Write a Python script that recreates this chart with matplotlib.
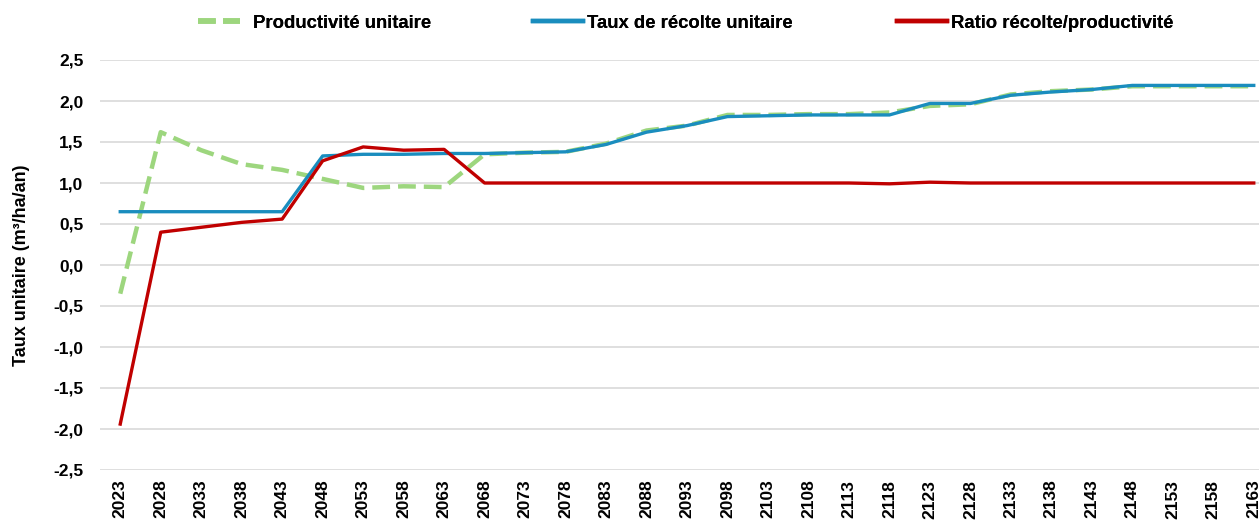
import numpy as np
import matplotlib.pyplot as plt
from matplotlib.ticker import FuncFormatter
from matplotlib.lines import Line2D

years = list(range(2023, 2164, 5))

productivite = [-0.35, 1.62, 1.40, 1.23, 1.16, 1.05, 0.94, 0.96, 0.95, 1.35,
                1.37, 1.38, 1.48, 1.64, 1.70, 1.83, 1.83, 1.84, 1.84, 1.86,
                1.94, 1.96, 2.08, 2.12, 2.14, 2.18, 2.18, 2.18, 2.18]
taux_recolte = [0.65, 0.65, 0.65, 0.65, 0.65, 1.33, 1.35, 1.35, 1.36, 1.36,
                1.37, 1.38, 1.47, 1.62, 1.70, 1.81, 1.82, 1.83, 1.83, 1.83,
                1.97, 1.97, 2.07, 2.11, 2.14, 2.19, 2.19, 2.19, 2.19]
ratio = [-1.94, 0.40, 0.46, 0.52, 0.56, 1.27, 1.44, 1.40, 1.41, 1.00,
         1.00, 1.00, 1.00, 1.00, 1.00, 1.00, 1.00, 1.00, 1.00, 0.99,
         1.01, 1.00, 1.00, 1.00, 1.00, 1.00, 1.00, 1.00, 1.00]

labels = ['Productivité unitaire', 'Taux de récolte unitaire', 'Ratio récolte/productivité']
colors = ['#9DD67E', '#1A8DBE', '#C00000']

plt.rcParams['font.family'] = ['Liberation Sans', 'DejaVu Sans']
plt.rcParams['font.weight'] = 'bold'

fig = plt.figure(figsize=(12.59, 5.21), dpi=100)
ax = fig.add_axes([100 / 1259, 1 - 470 / 521, 1174 / 1259, 410 / 521])

x = np.arange(len(years))
ax.plot(x, productivite, color=colors[0], lw=3.2, ls=(0, (4, 1.8)))
ax.plot(x, taux_recolte, color=colors[1], lw=2.4)
ax.plot(x, ratio, color=colors[2], lw=2.4)

ax.set_xlim(-0.5, len(years) - 0.5)
ax.set_ylim(-2.5, 2.5)
ax.set_yticks(np.arange(-2.5, 2.51, 0.5))
ax.yaxis.set_major_formatter(FuncFormatter(lambda v, p: f"{v:.1f}".replace('.', ',').replace('-0,0', '0,0')))
ax.set_xticks(x)
ax.set_xticklabels([str(y) for y in years], rotation=90, fontsize=12.5, fontweight='bold')
for lab in ax.get_yticklabels():
    lab.set_fontsize(12.5)
    lab.set_fontweight('bold')
ax.tick_params(axis='x', length=0, pad=7)
ax.tick_params(axis='y', length=0, pad=12)
ax.grid(axis='y', color='#D9D9D9', lw=1.2)
ax.set_axisbelow(True)
for s in ax.spines.values():
    s.set_visible(False)

ax.set_ylabel('Taux unitaire (m³/ha/an)', fontsize=13, fontweight='bold', labelpad=17)

# three legend entries placed like the original (fixed column slots)
handles = [Line2D([], [], color=colors[0], lw=4, ls=(0, (3.2, 1.3))),
           Line2D([], [], color=colors[1], lw=3.2),
           Line2D([], [], color=colors[2], lw=3.2)]
starts = [198, 533, 897]
hlens = [2.27, 2.7, 2.7]
tpads = [0.7, 0.2, 0.2]
for h, lab, sx, hl, tp in zip(handles, labels, starts, hlens, tpads):
    leg = fig.legend([h], [lab], loc='center left', bbox_to_anchor=(sx / 1259, 1 - 23 / 521),
                     frameon=False, handlelength=hl, handletextpad=tp, borderpad=0,
                     borderaxespad=0, prop={'weight': 'bold', 'size': 13.3})
    fig.add_artist(leg)

fig.savefig('out.png', dpi=100)
